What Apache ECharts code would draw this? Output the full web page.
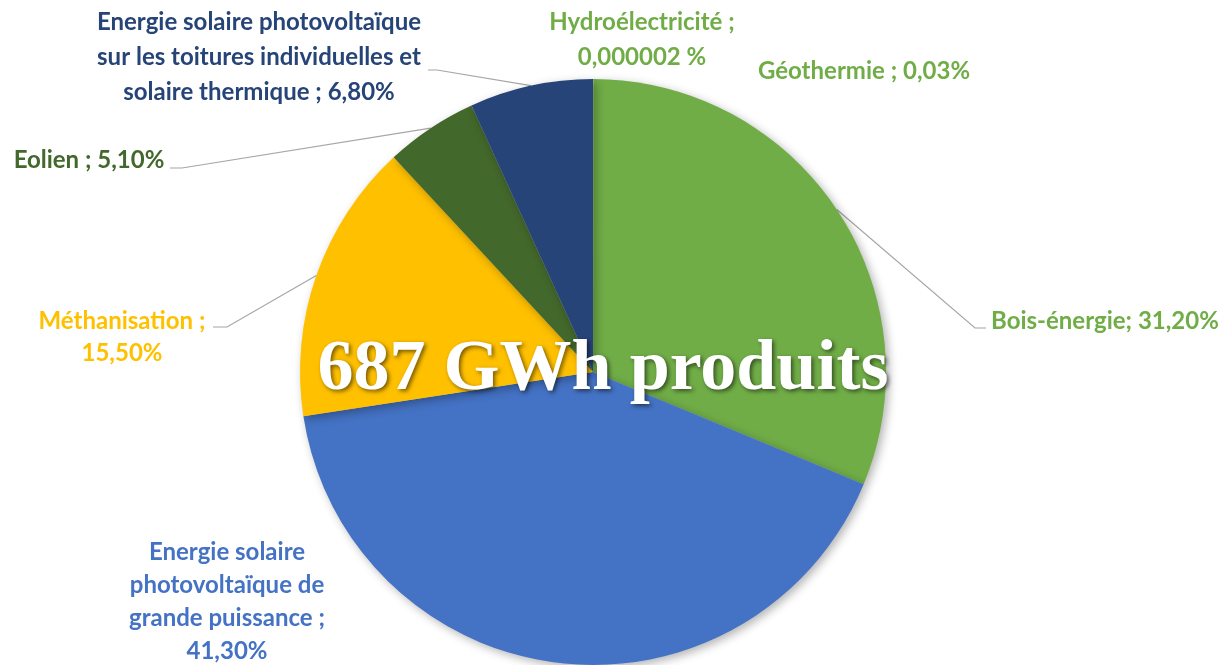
<!DOCTYPE html>
<html>
<head>
<meta charset="utf-8">
<script src="https://cdn.jsdelivr.net/npm/echarts@6/dist/echarts.min.js"></script>
<style>html,body{margin:0;padding:0;background:#fff;}#c{width:1226px;height:665px;}</style>
</head>
<body>
<div id="c"></div>
<script>
// Data
const categories = [
  "Hydroélectricité",
  "Géothermie",
  "Bois-énergie",
  "Energie solaire photovoltaïque de grande puissance",
  "Méthanisation",
  "Eolien",
  "Energie solaire photovoltaïque sur les toitures individuelles et solaire thermique"
];
const shares = [0.000002, 0.03, 31.2, 41.3, 15.5, 5.1, 6.8];
const labelTexts = [
  "Hydroélectricité ;\n0,000002 %",
  "Géothermie ; 0,03%",
  "Bois-énergie; 31,20%",
  "Energie solaire\nphotovoltaïque de\ngrande puissance ;\n41,30%",
  "Méthanisation ;\n15,50%",
  "Eolien ; 5,10%",
  "Energie solaire photovoltaïque\nsur les toitures individuelles et\nsolaire thermique ; 6,80%"
];
const totalText = "687 GWh produits";

// Styles
const colors = ["#70AD47", "#70AD47", "#70AD47", "#4472C4", "#FFC000", "#43682B", "#264478"];
const labelColors = ["#70AD47", "#70AD47", "#70AD47", "#4472C4", "#FFC000", "#43682B", "#264478"];
// label anchor: [x, y, align, showLine, lineHeight]
const labelPos = [
  [642, 40, 'center', false, 35],
  [864, 71, 'center', false, 30],
  [991, 321, 'left', true, 30],
  [227, 602, 'center', false, 33],
  [122, 337, 'center', true, 32],
  [89, 160, 'center', true, 30],
  [259, 57, 'center', true, 35]
];
// label line elbows: [elbowX, elbowY, endX]
const lineElbows = [null, null, [975, 328, 986], null, [227, 327, 213], [182, 168, 170], [437, 70, 428]];

const chart = echarts.init(document.getElementById('c'));
const data = categories.map((n, i) => ({
  name: n,
  value: shares[i],
  itemStyle: { color: colors[i] },
  label: { color: labelColors[i], lineHeight: labelPos[i][4], formatter: labelTexts[i] },
  labelLine: { show: labelPos[i][3] }
}));

chart.setOption({
  animation: false,
  title: {
    text: totalText,
    left: 598,
    top: 329,
    textAlign: 'center',
    textStyle: {
      fontFamily: 'Liberation Serif',
      fontWeight: 'bold',
      fontSize: 72,
      color: '#ffffff',
      textShadowColor: 'rgba(0,0,0,0.55)',
      textShadowBlur: 4,
      textShadowOffsetX: 2,
      textShadowOffsetY: 2
    }
  },
  series: [{
    type: 'pie',
    center: [593, 372],
    radius: 293,
    startAngle: 90,
    clockwise: true,
    avoidLabelOverlap: false,
    itemStyle: {
      shadowBlur: 10,
      shadowColor: 'rgba(0,0,0,0.3)',
      shadowOffsetX: 3,
      shadowOffsetY: 3
    },
    label: {
      show: true,
      position: 'outside',
      fontFamily: 'Lato',
      fontWeight: 'bold',
      fontSize: 24,
      align: 'center'
    },
    labelLine: {
      show: true,
      length: 10,
      length2: 10,
      lineStyle: { color: '#A6A6A6', width: 1.2 }
    },
    labelLayout: function (params) {
      const i = params.dataIndex;
      const p = labelPos[i];
      const res = { x: p[0], y: p[1], align: p[2], verticalAlign: 'middle', hideOverlap: false, moveOverlap: null };
      const e = lineElbows[i];
      if (e && params.labelLinePoints) {
        const s = params.labelLinePoints[0];
        res.labelLinePoints = [[s[0], s[1]], [e[0], e[1]], [e[2], e[1]]];
      }
      return res;
    },
    emphasis: { disabled: true },
    data: data
  }]
});
</script>
</body>
</html>
